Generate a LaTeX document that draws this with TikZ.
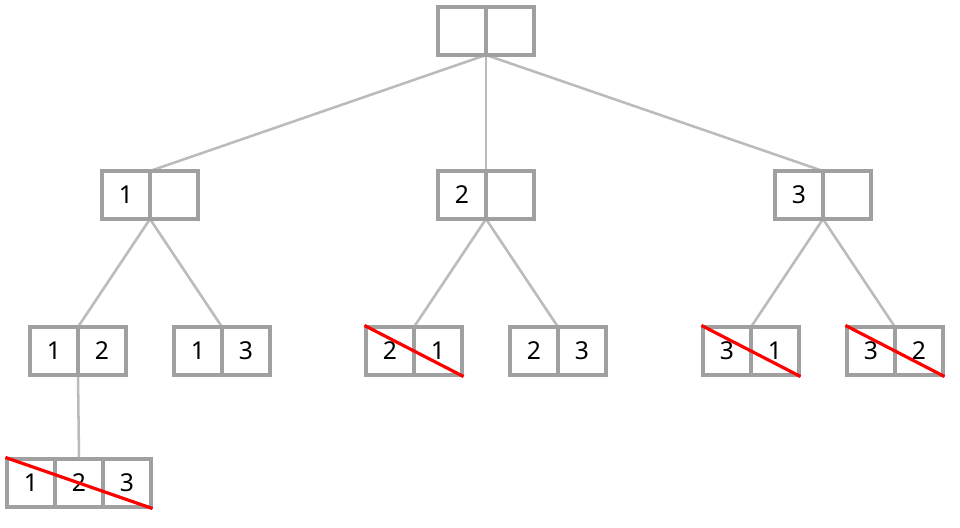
\documentclass[tikz,border=0pt]{standalone}
\usepackage{fontspec}
\setmainfont{Noto Sans}
\begin{document}
\begin{tikzpicture}[x=0.75pt,y=-0.75pt,
  cell/.style={draw=boxgray,line width=2.3pt,minimum width=36pt,minimum height=36pt,inner sep=0pt,fill=white,font=\fontsize{18.5}{22}\selectfont},
  link/.style={draw=linkgray,line width=1.9pt},
  strike/.style={draw=red,line width=2.4pt}]
\definecolor{boxgray}{HTML}{A0A0A0}
\definecolor{linkgray}{HTML}{BBBBBB}
\useasboundingbox (0,0) rectangle (960,528);
% connectors (drawn first, boxes cover their ends)
\coordinate (rootm) at (486,55);
\coordinate (am) at (150,171); \coordinate (ab) at (150,219);
\coordinate (bm) at (486,171); \coordinate (bb) at (486,219);
\coordinate (cm) at (823,171); \coordinate (cb) at (823,219);
\coordinate (d1t) at (78,327); \coordinate (d1b) at (78,375);
\coordinate (d2t) at (222,327);
\coordinate (d3t) at (414,327);
\coordinate (d4t) at (558,327);
\coordinate (d5t) at (751,327);
\coordinate (d6t) at (895,327);
\coordinate (et) at (79,459);
\draw[link] (rootm) -- (am);
\draw[link] (rootm) -- (bm);
\draw[link] (rootm) -- (cm);
\draw[link] (ab) -- (d1t);
\draw[link] (ab) -- (d2t);
\draw[link] (bb) -- (d3t);
\draw[link] (bb) -- (d4t);
\draw[link] (cb) -- (d5t);
\draw[link] (cb) -- (d6t);
\draw[link] (d1b) -- (et);
% root
\node[cell] (r1) at (462,31) {};
\node[cell] (r2) at (510,31) {};
% level 1
\node[cell] (a1) at (126,195) {1};
\node[cell] (a2) at (174,195) {};
\node[cell] (b1) at (462,195) {2};
\node[cell] (b2) at (510,195) {};
\node[cell] (c1) at (799,195) {3};
\node[cell] (c2) at (847,195) {};
% level 2
\node[cell] (p1) at (54,351) {1};
\node[cell] (p2) at (102,351) {2};
\node[cell] (q1) at (198,351) {1};
\node[cell] (q2) at (246,351) {3};
\node[cell] (s1) at (390,351) {2};
\node[cell] (s2) at (438,351) {1};
\node[cell] (t1) at (534,351) {2};
\node[cell] (t2) at (582,351) {3};
\node[cell] (u1) at (727,351) {3};
\node[cell] (u2) at (775,351) {1};
\node[cell] (v1) at (871,351) {3};
\node[cell] (v2) at (919,351) {2};
% level 3
\node[cell] (w1) at (31,483) {1};
\node[cell] (w2) at (79,483) {2};
\node[cell] (w3) at (127,483) {3};
% strikes
\draw[strike] (s1.north west) -- (s2.south east);
\draw[strike] (u1.north west) -- (u2.south east);
\draw[strike] (v1.north west) -- (v2.south east);
\draw[strike] (w1.north west) -- (w3.south east);
\end{tikzpicture}
\end{document}
